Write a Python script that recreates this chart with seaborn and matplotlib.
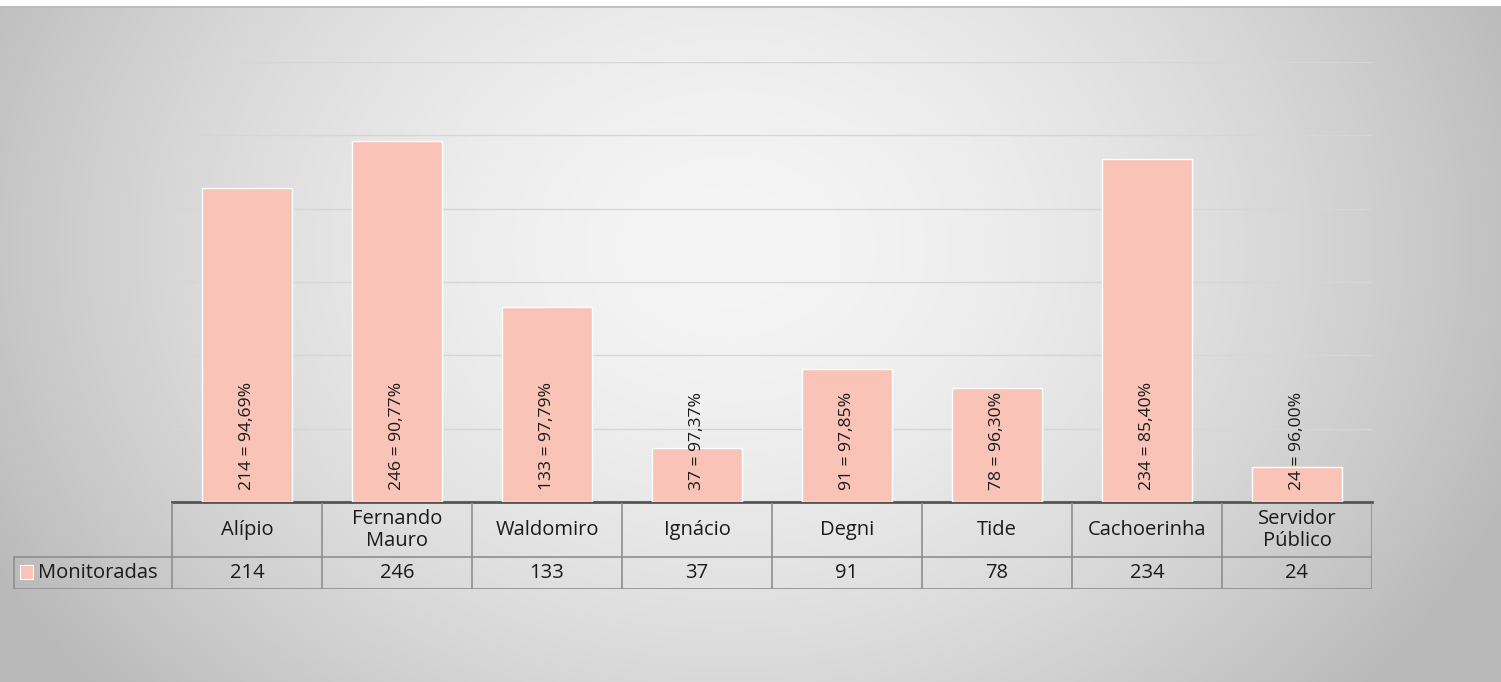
import numpy as np
import pandas as pd
import matplotlib
matplotlib.use("Agg")
import matplotlib.pyplot as plt
import seaborn as sns

categories = ["Alípio", "Fernando\nMauro", "Waldomiro", "Ignácio", "Degni", "Tide", "Cachoerinha", "Servidor\nPúblico"]
monitoradas = [214, 246, 133, 37, 91, 78, 234, 24]
percentuais = ["94,69%", "90,77%", "97,79%", "97,37%", "97,85%", "96,30%", "85,40%", "96,00%"]
series_name = "Monitoradas"

sns.set_theme(style="white")
plt.rcParams['font.family'] = ['Open Sans', 'DejaVu Sans']

W, H = 1501, 682
fig = plt.figure(figsize=(W/100, H/100), dpi=100)
fig.patch.set_facecolor("white")

# background gradient
bg = fig.add_axes([0, 0, 1, (H-6)/H])
yy, xx = np.mgrid[0:676, 0:1501]
cx, cy = 730, 240
d = np.sqrt(((xx-cx)/800.0)**2 + ((yy-cy)/640.0)**2)
val = 245 - 55*np.clip(d, 0, 1.05)**1.7
img = np.dstack([val, val, val]).astype(np.uint8)
bg.imshow(img, aspect="auto", extent=[0, 1, 0, 1], zorder=0)
bg.axhline(1, color="#BDBDBD", lw=2)
bg.set_axis_off()

def fx(px): return px / W
def fy(py): return 1 - py / H

ax = fig.add_axes([fx(172), fy(502), fx(1372)-fx(172), fy(62)-fy(502)])
ax.patch.set_alpha(0)
df = pd.DataFrame({"cat": categories, "val": monitoradas})
sns.barplot(data=df, x="cat", y="val", color="#F9C3B7", saturation=1, width=0.6,
            edgecolor="white", linewidth=1, ax=ax, zorder=3)
ax.set_ylim(0, 300)
ax.set_xlim(-0.5, len(categories)-0.5)
ax.set_yticks(np.arange(0, 301, 50))
ax.yaxis.grid(True, color="#D6D6D6", lw=1)
ax.set_axisbelow(True)
ax.tick_params(left=False, bottom=False, labelleft=False, labelbottom=False)
ax.set_xlabel(""); ax.set_ylabel("")
for s in ["top", "left", "right"]:
    ax.spines[s].set_visible(False)
ax.spines["bottom"].set_color("#555555")
ax.spines["bottom"].set_linewidth(2)
for i, (v, p) in enumerate(zip(monitoradas, percentuais)):
    ax.text(i, 8, f"{v} = {p}", rotation=90, ha="center", va="bottom",
            fontsize=12.6, color="#1a1a1a", zorder=5)

# data table
tl, tr = 13, 1372
tb_top, tb_mid, tb_bot = 503, 557, 589
tax = fig.add_axes([fx(tl), fy(tb_bot), fx(tr)-fx(tl), fy(tb_top)-fy(tb_bot)])
x0 = -0.5 - (172-tl)/150.0
tax.set_xlim(x0, len(categories)-0.5)
tax.set_ylim(tb_bot, tb_top)
tax.set_axis_off()
lc = "#8E8E8E"
n = len(categories)
tax.plot([x0, n-0.5], [tb_mid, tb_mid], color=lc, lw=1.2)
tax.plot([x0, n-0.5], [tb_bot-0.5, tb_bot-0.5], color=lc, lw=1.2)
for k in range(n+1):
    tax.plot([k-0.5, k-0.5], [tb_top, tb_bot-0.5], color=lc, lw=1.2)
tax.plot([x0+0.005, x0+0.005], [tb_mid, tb_bot-0.5], color=lc, lw=1.2)
fs = 14.5
for i, (c, v) in enumerate(zip(categories, monitoradas)):
    tax.text(i, (tb_top+tb_mid)/2, c, ha="center", va="center", fontsize=fs,
             color="#1a1a1a", linespacing=1.2)
    tax.text(i, (tb_mid+tb_bot)/2, str(v), ha="center", va="center", fontsize=fs,
             color="#1a1a1a")
tax.add_patch(plt.Rectangle((x0+0.045, 565), 0.09, 14, color="#F9C3B7", ec="white", lw=0.8))
tax.text(x0+0.17, (tb_mid+tb_bot)/2, series_name, ha="left", va="center",
         fontsize=fs, color="#1a1a1a")

fig.savefig("out.png", dpi=100, facecolor=fig.get_facecolor())
